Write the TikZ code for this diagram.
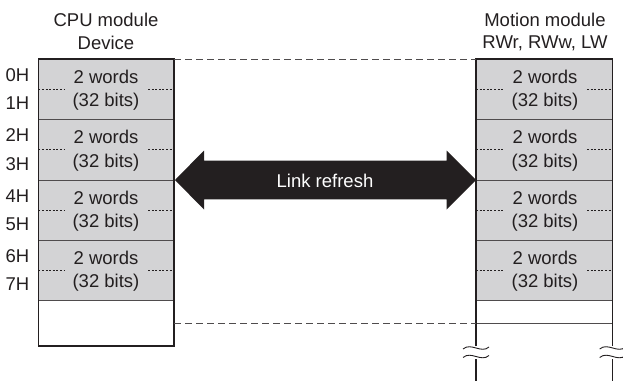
\documentclass[tikz,border=0pt]{standalone}
\usepackage{fontspec}
\setmainfont{Liberation Sans}
\definecolor{ink}{HTML}{231F20}
\definecolor{cellgray}{HTML}{D3D3D5}
\begin{document}
\begin{tikzpicture}[x=1pt,y=-1pt,
  txt/.style={font=\fontsize{18.5}{22}\selectfont, inner sep=0pt, text=ink},
  boxline/.style={draw=ink, line width=1.3pt},
  sepline/.style={draw=ink!80, line width=1pt},
  dotline/.style={draw=ink, line width=0.8pt, dash pattern=on 2pt off 1.6pt},
  dashline/.style={draw=ink!80, line width=0.9pt, dash pattern=on 6.5pt off 4.5pt},
  wave/.style={draw=ink, line width=0.9pt}]
\useasboundingbox (0,0) rectangle (623,381);
% row boundaries
\def\rA{59}\def\rB{119.5}\def\rC{180}\def\rD{240.3}\def\rE{300.7}
\def\xL{38.3}\def\xLr{174}\def\xR{476}\def\xRr{612.7}
% grey cells
\fill[cellgray] (\xL,\rA) rectangle (\xLr,\rE);
\fill[cellgray] (\xR,\rA) rectangle (\xRr,\rE);
% separators
\foreach \y in {\rB,\rC,\rD,\rE}{
  \draw[sepline] (\xL,\y) -- (\xLr,\y);
  \draw[sepline] (\xR,\y) -- (\xRr,\y);
}
\draw[sepline] (\xR,323.3) -- (\xRr,323.3);
% dotted half-lines
\foreach \m in {89.3,149.8,210.5,270.5}{
  \draw[dotline] (\xL,\m) -- (65,\m);
  \draw[dotline] (148,\m) -- (\xLr,\m);
  \draw[dotline] (\xR,\m) -- (503,\m);
  \draw[dotline] (587,\m) -- (\xRr,\m);
}
% left box outline
\draw[boxline] (\xL,\rA) rectangle (\xLr,346);
% right column outline
\draw[boxline] (\xR,346) -- (\xR,\rA) -- (\xRr,\rA) -- (\xRr,346);
\draw[boxline] (\xR,359) -- (\xR,381);
\draw[boxline] (\xRr,359) -- (\xRr,381);
% waves
\foreach \x in {\xR,\xRr}{
  \foreach \ys in {348,356.5}{
    \draw[wave] (\x-13,\ys+1) .. controls (\x-5,\ys-6) and (\x+5,\ys+6) .. (\x+13,\ys-1);
  }
}
% dashed connectors
\coordinate (lt) at (\xLr,\rA); \coordinate (rt) at (\xR,\rA);
\coordinate (lb) at (\xLr,323.3); \coordinate (rb) at (\xR,323.3);
\draw[dashline] (lt) -- (rt);
\draw[dashline] (lb) -- (rb);
% headers
\node[txt] (cpu1) at (106,20) {CPU module};
\node[txt] (cpu2) at (106,43) {Device};
\node[txt] (mot1) at (545,20) {Motion module};
\node[txt] (mot2) at (545,43) {RWr, RWw, LW};
% address labels
\foreach \m/\a/\b/\i in {89.3/0H/1H/1,149.8/2H/3H/2,210.5/4H/5H/3,270.5/6H/7H/4}{
  \node[txt] (addrA\i) at (17.5,\m-14.5) {\a};
  \node[txt] (addrB\i) at (17.5,\m+14) {\b};
  \node[txt] (lw\i) at (106,\m-12.5) {2 words};
  \node[txt] (lb\i) at (106,\m+12.5) {(32 bits)};
  \node[txt] (rw\i) at (545,\m-12.5) {2 words};
  \node[txt] (rbits\i) at (545,\m+12.5) {(32 bits)};
}
% double arrow
\fill[ink] (175,180) -- (204,150.5) -- (204,160.7) -- (446.7,160.7) -- (446.7,150.5)
  -- (476,180) -- (446.7,209.5) -- (446.7,199.3) -- (204,199.3) -- (204,209.5) -- cycle;
\node[txt, text=white] (link) at (325,181) {Link refresh};
\end{tikzpicture}
\end{document}
